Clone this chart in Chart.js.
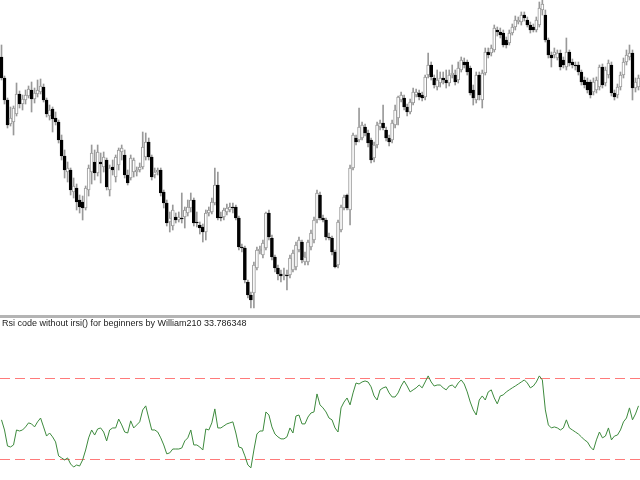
<!DOCTYPE html>
<html>
<head>
<meta charset="utf-8">
<script src="https://cdn.jsdelivr.net/npm/chart.js"></script>
<style>
  body { margin: 0; background: #fff; }
  #wrap { position: relative; width: 640px; height: 480px; overflow: hidden; background: #fff; }
  #priceChart { position: absolute; left: 0; top: 0; }
  #split { position: absolute; left: 0; top: 315px; width: 640px; height: 3px; background: #b4b4b4; }
  #rsiChart { position: absolute; left: 0; top: 320px; }
  #rsiLabel {
    position: absolute; left: 2px; top: 318px;
    font: 9px "Liberation Sans", "DejaVu Sans", sans-serif;
    color: #222; white-space: nowrap;
  }
</style>
</head>
<body>
<div id="wrap">
  <canvas id="priceChart" width="640" height="314"></canvas>
  <div id="split"></div>
  <canvas id="rsiChart" width="640" height="160"></canvas>
  <div id="rsiLabel">Rsi code without irsi() for beginners by William210 33.786348</div>
</div>
<script>
// prix (points), une bougie par barre
const opens = [263,242,220,196,198,206,226,216,220,224,230,221,226,228,233,220,204,211,202,198,
  180,164,148,150,128,132,120,118,112,130,148,158,147,158,153,160,130,153,143,155,
  168,165,145,142,148,148,150,153,163,178,163,145,148,150,128,117,98,94,103,100,
  102,103,107,112,120,98,95,93,88,107,108,117,135,103,103,108,110,113,113,102,
  73,72,38,25,27,52,69,65,72,107,82,63,52,46,44,45,45,50,53,70,
  78,58,58,73,80,100,125,102,100,83,82,68,55,90,112,125,110,152,182,180,
  182,193,187,180,162,175,193,197,190,182,180,195,202,220,222,213,208,217,225,227,
  225,223,245,255,242,233,237,242,240,237,245,245,240,250,258,258,252,230,220,245,
  220,247,268,267,270,290,288,287,280,277,287,293,298,298,305,300,295,293,290,295,
  310,305,280,265,265,262,267,260,253,268,258,255,255,248,240,238,238,228,230,233,
  253,237,245,255,227,225,233,245,258,263,267,232,233];
const highs = [275,244,222,213,214,237,229,225,230,234,238,232,240,241,236,222,215,213,208,200,
  185,170,158,152,142,136,125,124,134,155,175,170,175,167,168,162,155,160,165,172,
  175,170,150,165,162,153,157,188,187,182,165,152,152,152,130,120,108,115,107,108,
  127,113,120,127,122,108,98,96,110,113,122,152,148,108,112,116,117,117,115,104,
  76,74,40,28,58,73,74,80,108,110,85,65,55,50,52,50,65,70,78,83,
  80,68,80,90,103,130,128,105,102,87,84,70,100,115,125,126,155,187,185,212,
  198,196,190,182,178,198,200,215,193,185,200,215,224,228,225,216,221,232,231,230,
  228,245,267,258,245,250,248,248,250,250,255,250,258,263,262,260,254,235,248,248,
  250,272,272,275,295,293,292,290,283,290,296,304,303,308,308,303,298,296,303,318,
  320,310,282,268,272,270,270,263,282,270,261,258,258,250,243,242,240,242,243,255,
  256,253,260,258,230,236,248,262,270,275,270,242,245];
const lows = [240,216,192,194,185,204,212,210,216,222,208,217,223,226,218,203,200,188,195,177,
  160,142,138,125,122,110,107,100,110,124,136,140,144,137,148,130,124,145,138,150,
  160,142,135,140,143,144,148,151,160,160,140,142,145,124,112,94,88,90,97,98,
  97,92,104,108,94,93,86,78,80,104,106,115,100,99,100,105,108,107,100,70,
  68,37,22,12,12,50,66,62,70,80,60,48,40,38,40,30,42,48,50,68,
  57,55,55,70,77,97,100,98,80,80,65,52,52,88,110,110,95,150,175,178,
  180,184,173,157,158,172,190,190,179,174,177,192,195,218,210,204,206,215,223,220,
  219,220,242,240,232,230,233,236,232,234,242,235,237,248,252,245,225,215,217,220,
  212,245,262,264,268,284,282,273,272,275,285,290,296,295,299,293,287,288,288,293,
  305,278,262,253,262,260,250,252,250,254,252,250,245,235,232,227,222,225,227,230,
  232,234,242,224,220,222,230,242,255,260,220,228,230];
const closes = [242,220,195,202,212,226,216,221,225,231,221,227,230,234,220,206,210,201,198,180,
  164,150,152,130,134,118,113,112,132,152,167,147,168,156,163,133,152,150,163,170,
  172,145,137,162,160,150,153,173,178,163,143,148,150,127,117,97,102,110,100,103,
  101,110,113,120,97,97,92,88,107,110,118,135,102,102,110,112,113,112,102,73,
  72,40,25,20,55,70,71,77,107,83,63,52,46,44,46,44,62,67,75,80,
  60,63,78,87,100,127,102,100,83,82,68,53,98,113,123,112,152,185,178,193,
  195,187,177,160,175,195,197,192,182,178,197,210,223,225,213,208,218,228,228,223,
  222,243,255,243,235,240,242,240,237,245,247,238,252,260,255,248,227,222,245,225,
  247,268,265,272,292,288,285,275,275,287,293,300,300,305,302,295,290,290,300,312,
  316,280,265,262,268,267,253,255,268,257,255,254,248,238,235,230,225,238,240,253,
  235,250,257,227,223,233,245,258,265,267,232,238,242];

const rsiValues = [49.3,44.3,36.4,35.9,36.9,44.3,43.8,44.3,45.8,47.8,47.3,45.8,48.3,50.2,45.8,41.3,42.8,40.9,38.4,31.5,
  30.5,29.5,30.5,27.5,26.0,27.0,26.5,29.5,34.4,40.4,44.3,41.8,44.8,45.3,43.3,38.9,44.3,45.3,45.3,49.7,
  46.8,43.3,42.8,48.8,45.3,46.8,48.3,54.2,56.2,50.2,44.3,44.3,43.3,40.4,36.9,32.5,33.0,34.9,34.9,34.9,
  35.4,38.9,40.4,44.3,36.9,36.9,35.9,34.4,44.8,44.3,47.8,54.7,45.3,45.3,46.3,47.3,47.8,48.3,42.8,35.9,
  35.4,31.5,27.0,25.6,34.4,42.3,43.8,43.8,53.2,51.7,45.8,42.3,40.9,39.9,39.9,40.9,45.3,42.8,51.2,51.7,
  47.3,47.3,50.7,52.7,53.2,62.1,56.7,55.2,53.2,50.2,49.3,45.3,43.3,55.2,58.1,60.1,56.7,62.6,67.5,67.0,
  68.0,68.5,68.0,65.6,61.1,59.1,64.1,65.1,65.6,62.6,60.6,60.6,62.6,66.0,68.5,66.0,63.1,64.1,65.1,66.5,
  65.1,68.0,71.0,68.0,66.0,66.5,66.5,65.1,64.1,66.0,66.5,65.1,67.5,69.0,67.0,63.1,58.1,54.2,51.7,59.1,
  61.1,59.1,63.1,64.1,60.1,57.2,61.1,61.6,63.1,64.1,65.1,66.0,67.0,68.0,69.0,67.5,65.1,66.0,68.0,71.0,
  69.0,54.2,46.8,45.3,45.8,45.3,44.3,45.3,49.3,45.3,44.3,43.3,42.3,40.9,39.4,38.4,35.9,34.4,39.4,43.3,
  40.4,41.3,45.3,39.4,41.3,41.8,44.3,48.3,50.2,55.2,49.3,52.2,56.2];
const rsiLevels = [70, 30];

const bars = closes.map((_, i) => i + 1);

// Lignes de niveaux en pointillés
const levelLines = {
  id: 'levelLines',
  beforeDatasetsDraw(chart) {
    const { ctx, chartArea, scales } = chart;
    ctx.save();
    ctx.strokeStyle = '#ff7a7a';
    ctx.lineWidth = 1;
    ctx.setLineDash([10, 5]);
    rsiLevels.forEach(v => {
      const y = Math.round(scales.y.getPixelForValue(v)) + 0.5;
      ctx.beginPath();
      ctx.moveTo(chartArea.left, y);
      ctx.lineTo(chartArea.right, y);
      ctx.stroke();
    });
    ctx.restore();
  }
};

const isBull = i => closes[i] >= opens[i];

new Chart(document.getElementById('priceChart'), {
  type: 'bar',
  data: {
    labels: bars,
    datasets: [
      {
        label: 'corps',
        data: opens.map((o, i) => [o, closes[i]]),
        backgroundColor: ctx => isBull(ctx.dataIndex) ? '#ffffff' : '#000000',
        borderColor: ctx => isBull(ctx.dataIndex) ? '#999999' : '#000000',
        borderWidth: 1,
        borderSkipped: false,
        barThickness: 3,
        grouped: false,
        order: 0
      },
      {
        label: 'mèches',
        data: lows.map((l, i) => [l, highs[i]]),
        backgroundColor: '#999999',
        borderWidth: 0,
        barThickness: 1,
        grouped: false,
        order: 1
      }
    ]
  },
  options: {
    responsive: false,
    animation: false,
    devicePixelRatio: 1,
    layout: { padding: 0 },
    plugins: { legend: { display: false }, tooltip: { enabled: false } },
    scales: {
      x: { display: false, offset: true },
      y: { display: false, min: 6, max: 320 }
    }
  }
});

new Chart(document.getElementById('rsiChart'), {
  type: 'line',
  data: {
    labels: bars,
    datasets: [{
      label: 'RSI',
      data: rsiValues,
      borderColor: '#3d8a3d',
      borderWidth: 1,
      pointRadius: 0,
      tension: 0,
      fill: false
    }]
  },
  options: {
    responsive: false,
    animation: false,
    devicePixelRatio: 1,
    layout: { padding: 0 },
    plugins: { legend: { display: false }, tooltip: { enabled: false } },
    scales: {
      x: { display: false, offset: true },
      y: { display: false, min: 19.6, max: 98.6 }
    }
  },
  plugins: [levelLines]
});
</script>
</body>
</html>
